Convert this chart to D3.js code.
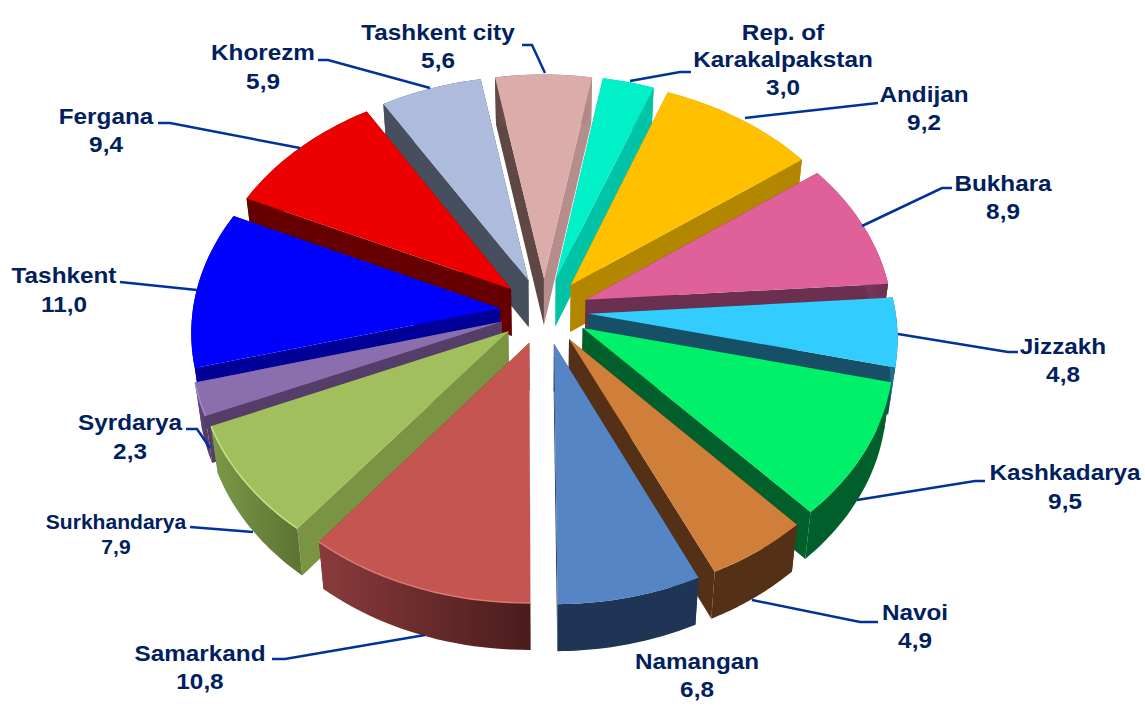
<!DOCTYPE html>
<html>
<head>
<meta charset="utf-8">
<script src="https://cdn.jsdelivr.net/npm/d3@7"></script>
<style>
  html, body { margin: 0; padding: 0; background: #fff; }
  text { font-family: "Liberation Sans", Arial, sans-serif; font-weight: bold; fill: #002060; text-anchor: middle; }
</style>
</head>
<body>
<div id="chart"></div>
<script>
// Chart data, clockwise from the first slice
const regions = ['Rep. of Karakalpakstan', 'Andijan', 'Bukhara', 'Jizzakh', 'Kashkadarya', 'Navoi', 'Namangan',
    'Samarkand', 'Surkhandarya', 'Syrdarya', 'Tashkent', 'Fergana', 'Khorezm', 'Tashkent city'];
const shares = [3.0, 9.2, 8.9, 4.8, 9.5, 4.9, 6.8, 10.8, 7.9, 2.3, 11.0, 9.4, 5.9, 5.6];

// Slice colours
const topColors = ['#00f0c8', '#ffc000', '#e0609a', '#33ccff', '#00f06a', '#cf7f3a', '#5585c5',
    '#c55550', '#a2bf5e', '#8a6ead', '#0000ff', '#ee0000', '#adbbdc', '#dbacaa'];
const wallStart = ['#00c4a5', '#b38600', '#6b2f4f', '#174f66', '#005f2a', '#533016', '#1f3555',
    '#6e2c2c', '#7b9444', '#553d69', '#000099', '#660000', '#474f5e', '#5f4746'];
const wallEnd = ['#00c4a5', '#b38600', '#6b2f4f', '#174f66', '#005f2a', '#533016', '#1f3555',
    '#6e2c2c', '#7b9444', '#553d69', '#000099', '#660000', '#474f5e', '#b58d8b'];
const rimLeft = ['#00c4a5', '#b38600', '#8a4a6c', '#1f6f8f', '#005f2a', '#533016', '#1f3555',
    '#8a3b3b', '#7c9a48', '#6a4f88', '#0000aa', '#660000', '#474f5e', '#5f4746'];
const rimRight = ['#00c4a5', '#b38600', '#6b2f4f', '#174f66', '#005f2a', '#533016', '#1f3555',
    '#4a1c1c', '#5d7434', '#553d69', '#000099', '#660000', '#474f5e', '#b58d8b'];
const bevelColors = [null, null, null, null, null, null, null, '#d97a74', '#c9e08a', '#a48cc4', null, null, null, null];

// Label layout: one entry per slice, text centre x and the baseline of each line
const labelLines = [['Rep. of', 'Karakalpakstan', '3,0'], ['Andijan', '9,2'], ['Bukhara', '8,9'], ['Jizzakh', '4,8'],
    ['Kashkadarya', '9,5'], ['Navoi', '4,9'], ['Namangan', '6,8'], ['Samarkand', '10,8'], ['Surkhandarya', '7,9'],
    ['Syrdarya', '2,3'], ['Tashkent', '11,0'], ['Fergana', '9,4'], ['Khorezm', '5,9'], ['Tashkent city', '5,6']];
const labelX = [783, 924, 1003, 1063, 1065, 915, 697, 200, 116, 130, 64, 106, 263, 438];
const labelY = [40, 102, 191, 354, 480, 620, 669, 661, 529, 430, 283, 124, 60, 40];
const labelStep = [27.5, 28, 28, 28, 29, 28, 28, 28, 25, 29, 29, 28, 29, 28];

// Leader lines from label to slice
const leaders = [
    [[691, 72], [680, 72], [630, 81]],
    [[878, 103], [860, 105], [745, 118]],
    [[952, 188], [942, 188], [862, 226]],
    [[1018, 352], [1008, 352], [898, 334]],
    [[985, 481], [975, 481], [857, 500]],
    [[878, 622], [860, 622], [752, 600]],
    [],
    [[272, 659], [285, 659], [425, 635]],
    [[190, 527], [253, 532]],
    [[186, 429], [197, 429], [210, 448]],
    [[120, 282], [197, 290]],
    [[158, 123], [170, 123], [300, 148]],
    [[318, 60], [328, 60], [430, 88]],
    [[522, 45], [532, 45], [545, 73]]
];

const width = 1145;
const height = 709;

// Camera: a tilted disc with a little perspective
const cx = 544, cy = 311;
const radiusX = 307, radiusY = 229;
const perspective = 0.095;
const explode = 0.145;
const depth = 47;
const bottomShrink = 0.98;

function project(u, v, lower) {
    const s = 1 / (1 - perspective * v);
    const x = radiusX * u * s;
    const y = radiusY * v * s;
    return lower ? [cx + x * bottomShrink, cy + y + depth] : [cx + x, cy + y];
}

const svg = d3.select('#chart').append('svg').attr('width', width).attr('height', height);
const defs = svg.append('defs');
const line = d3.line();

// Start angle puts the Namangan / Samarkand cut at the bottom of the pie
const pie = d3.pie().sort(null).value((d) => d).startAngle(10 * Math.PI / 180).endAngle(370 * Math.PI / 180);

const slices = pie(shares).map((p, i) => {
    const mid = (p.startAngle + p.endAngle) / 2;
    const ou = explode * Math.sin(mid);
    const ov = -explode * Math.cos(mid);
    const angles = d3.range(0, 25).map((k) => p.startAngle + (p.endAngle - p.startAngle) * k / 24);
    const arc = (lower) => angles.map((a) => project(ou + Math.sin(a), ov - Math.cos(a), lower));
    return { i, mid, tipTop: project(ou, ov, false), tipLow: project(ou, ov, true), arcTop: arc(false), arcLow: arc(true) };
});

// Back slices first so nearer ones paint over them
slices.sort((a, b) => Math.cos(b.mid) - Math.cos(a.mid));

const pieLayer = svg.append('g');
slices.forEach((s) => {
    const g = pieLayer.append('g').attr('class', 'slice');
    const first = 0, last = s.arcTop.length - 1;

    g.append('path')
        .attr('d', line([s.tipTop, s.arcTop[first], s.arcLow[first], s.tipLow]) + 'Z')
        .attr('fill', wallStart[s.i]);
    g.append('path')
        .attr('d', line([s.tipTop, s.arcTop[last], s.arcLow[last], s.tipLow]) + 'Z')
        .attr('fill', wallEnd[s.i]);

    const gradId = `rim${s.i}`;
    const xs = s.arcTop.map((d) => d[0]);
    const grad = defs.append('linearGradient')
        .attr('id', gradId)
        .attr('gradientUnits', 'userSpaceOnUse')
        .attr('x1', d3.min(xs)).attr('x2', d3.max(xs)).attr('y1', 0).attr('y2', 0);
    grad.append('stop').attr('offset', 0).attr('stop-color', rimLeft[s.i]);
    grad.append('stop').attr('offset', 1).attr('stop-color', rimRight[s.i]);
    g.append('path')
        .attr('d', line(s.arcTop.concat(s.arcLow.slice().reverse())) + 'Z')
        .attr('fill', `url(#${gradId})`);

    g.append('path')
        .attr('d', line([s.tipTop].concat(s.arcTop)) + 'Z')
        .attr('fill', topColors[s.i]);

    // Thin light edge along the rim on the slices that have it
    if (bevelColors[s.i]) {
        g.append('path')
            .attr('d', line(s.arcTop))
            .attr('fill', 'none')
            .attr('stroke', bevelColors[s.i])
            .attr('stroke-width', 1.5);
    }
});

// Leader lines
svg.append('g').selectAll('path')
    .data(leaders.filter((d) => d.length))
    .join('path')
    .attr('d', line)
    .attr('fill', 'none')
    .attr('stroke', '#003399')
    .attr('stroke-width', 2.5);

// Labels, slightly stretched sideways like the reference
labelLines.forEach((lines, i) => {
    const small = regions[i] === 'Surkhandarya';
    const t = svg.append('text')
        .attr('font-size', small ? 19.5 : 22.5)
        .attr('transform', `translate(${labelX[i]},0) scale(1.08,1)`);
    lines.forEach((txt, k) => {
        t.append('tspan').attr('x', 0).attr('y', labelY[i] + k * labelStep[i]).text(txt);
    });
});
</script>
</body>
</html>
